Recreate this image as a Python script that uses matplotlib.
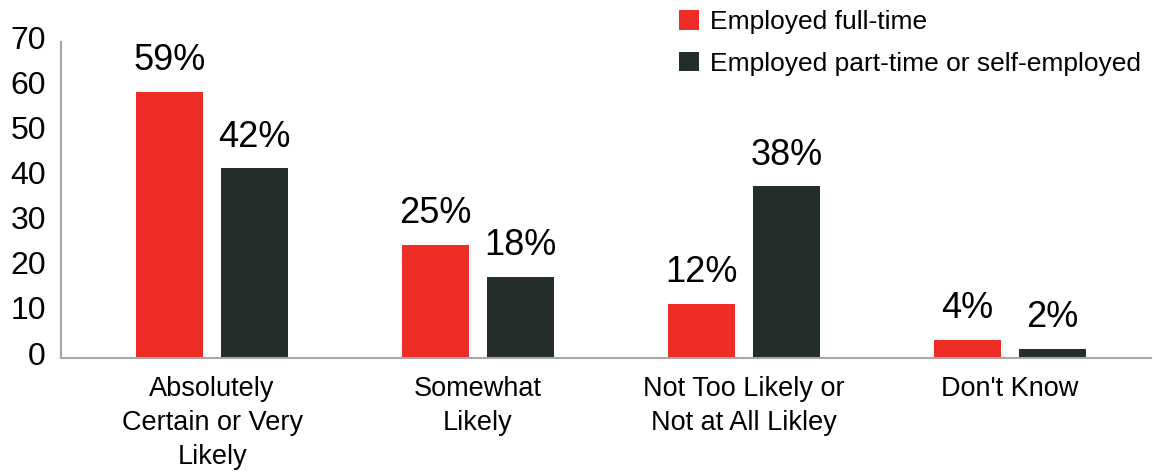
import numpy as np
import matplotlib.pyplot as plt
import matplotlib.transforms as mtransforms

plt.rcParams['font.family'] = ['Liberation Sans', 'DejaVu Sans']

# ----------------------------------------------------------------
# Data
# ----------------------------------------------------------------
categories = ['Absolutely\nCertain or Very\nLikely', 'Somewhat\nLikely',
              'Not Too Likely or\nNot at All Likley', "Don't Know"]
full_time = [59, 25, 12, 4]
part_time = [42, 18, 38, 2]
series_names = ['Employed full-time', 'Employed part-time or self-employed']
yticks = [0, 10, 20, 30, 40, 50, 60, 70]

color_full = '#ED2D26'
color_part = '#232D2B'
color_axis = '#A6A6A6'

# ----------------------------------------------------------------
# Figure
# ----------------------------------------------------------------
fig = plt.figure(figsize=(11.53, 4.72), dpi=100)
axx = fig.add_axes([0.053, 0.2415, 0.945, 0.6695])

x = np.arange(len(categories))
width = 0.252
offset = 0.16

bars_full = axx.bar(x - offset, full_time, width, color=color_full, label=series_names[0])
bars_part = axx.bar(x + offset, part_time, width, color=color_part, label=series_names[1])

# Value labels on top of each bar
for bars, vals in ((bars_full, full_time), (bars_part, part_time)):
  for b, v in zip(bars, vals):
    axx.annotate('{}%'.format(v), (b.get_x() + b.get_width() / 2, v),
                 xytext=(0, 10), textcoords='offset points',
                 ha='center', va='bottom', fontsize=26, color='black')

axx.set_xlim(-0.568, 3.53)
axx.set_ylim(0, 70)
axx.set_yticks(yticks)
axx.set_yticklabels([str(t) for t in yticks], fontsize=23)
axx.set_xticks(x)
axx.set_xticklabels(categories, fontsize=19.5, linespacing=1.4)
axx.tick_params(axis='y', length=0, pad=11)
axx.tick_params(axis='x', length=0, pad=13)

# Nudge y tick labels up a bit
shift = mtransforms.ScaledTranslation(0, 0.05, fig.dpi_scale_trans)
for lbl in axx.get_yticklabels():
  lbl.set_transform(lbl.get_transform() + shift)

for side in ('top', 'right'):
  axx.spines[side].set_visible(False)
for side in ('left', 'bottom'):
  axx.spines[side].set_color(color_axis)
  axx.spines[side].set_linewidth(1.5)

# Legend in the upper right
leg = fig.legend(handles=[bars_full, bars_part], labels=series_names,
                 loc='upper left', bbox_to_anchor=(0.575, 1.012),
                 frameon=False, fontsize=19, handlelength=0.75, handleheight=0.75,
                 handletextpad=0.45, labelspacing=0.67, borderaxespad=0.2)

fig.savefig('out.png', dpi=100)
plt.close('all')
